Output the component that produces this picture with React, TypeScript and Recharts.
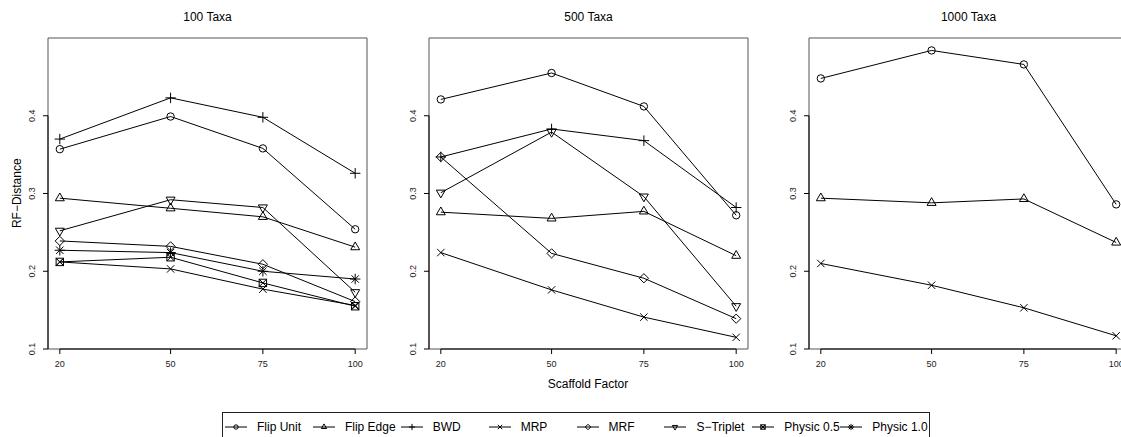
import React from 'react';
import { LineChart, Line, XAxis, YAxis, ReferenceArea, ReferenceLine } from 'recharts';

const FONT = '"Liberation Sans", Arial, Helvetica, sans-serif';

// x positions (scaffold factor) and y ticks
const scaffold = [20, 50, 75, 100];
const yTicks = [0.1, 0.2, 0.3, 0.4];
const panelTitles = ['100 Taxa', '500 Taxa', '1000 Taxa'];
const legendNames = ['Flip Unit', 'Flip Edge', 'BWD', 'MRP', 'MRF', 'S\u2212Triplet', 'Physic 0.5', 'Physic 1.0'];

// 100 taxa
const flipUnit100 = [0.357, 0.399, 0.358, 0.254];
const flipEdge100 = [0.294, 0.281, 0.27, 0.231];
const bwd100 = [0.37, 0.423, 0.398, 0.326];
const mrp100 = [0.212, 0.203, 0.177, 0.156];
const mrf100 = [0.239, 0.232, 0.209, 0.161];
const sTriplet100 = [0.252, 0.292, 0.282, 0.173];
const physic05_100 = [0.212, 0.218, 0.185, 0.155];
const physic10_100 = [0.227, 0.224, 0.2, 0.19];

// 500 taxa
const flipUnit500 = [0.421, 0.455, 0.412, 0.272];
const flipEdge500 = [0.276, 0.268, 0.277, 0.22];
const bwd500 = [0.347, 0.383, 0.368, 0.282];
const mrp500 = [0.224, 0.176, 0.141, 0.115];
const mrf500 = [0.347, 0.223, 0.191, 0.139];
const sTriplet500 = [0.301, 0.379, 0.296, 0.155];

// 1000 taxa
const flipUnit1000 = [0.448, 0.484, 0.466, 0.286];
const flipEdge1000 = [0.294, 0.288, 0.293, 0.237];
const mrp1000 = [0.21, 0.182, 0.153, 0.117];

type Shape = 'circle' | 'triUp' | 'plus' | 'cross' | 'diamond' | 'triDown' | 'boxX' | 'star';
const legendShapes: Shape[] = ['circle', 'triUp', 'plus', 'cross', 'diamond', 'triDown', 'boxX', 'star'];

// plot box geometry (pixels)
const AXIS_W = 48;
const PLOT_W = 319;
const panelLefts = [48, 429, 809];

function Marker({ cx, cy, shape, r = 3.7 }: { cx: number; cy: number; shape: Shape; r?: number }) {
  const st = { stroke: '#000', strokeWidth: 1, fill: 'none' };
  const t = r * 1.4;
  const p = r * 1.414;
  switch (shape) {
    case 'circle':
      return <circle cx={cx} cy={cy} r={r} {...st} />;
    case 'triUp':
      return <polygon points={`${cx},${cy - t} ${cx - t * 0.866},${cy + t / 2} ${cx + t * 0.866},${cy + t / 2}`} {...st} />;
    case 'triDown':
      return <polygon points={`${cx},${cy + t} ${cx - t * 0.866},${cy - t / 2} ${cx + t * 0.866},${cy - t / 2}`} {...st} />;
    case 'plus':
      return <path d={`M${cx - p},${cy}H${cx + p}M${cx},${cy - p}V${cy + p}`} {...st} />;
    case 'cross':
      return <path d={`M${cx - r},${cy - r}L${cx + r},${cy + r}M${cx - r},${cy + r}L${cx + r},${cy - r}`} {...st} />;
    case 'diamond': {
      const d = r * 1.25;
      return <polygon points={`${cx},${cy - d} ${cx + d},${cy} ${cx},${cy + d} ${cx - d},${cy}`} {...st} />;
    }
    case 'boxX':
      return (
        <g {...st}>
          <rect x={cx - r} y={cy - r} width={2 * r} height={2 * r} />
          <path d={`M${cx - r},${cy - r}L${cx + r},${cy + r}M${cx - r},${cy + r}L${cx + r},${cy - r}`} />
        </g>
      );
    case 'star':
      return (
        <path
          d={`M${cx - p},${cy}H${cx + p}M${cx},${cy - p}V${cy + p}M${cx - r},${cy - r}L${cx + r},${cy + r}M${cx - r},${cy + r}L${cx + r},${cy - r}`}
          {...st}
        />
      );
  }
  return null;
}

const dotFor = (shape: Shape) => (props: any) => (
  <Marker key={`dot-${shape}-${props.index}`} cx={props.cx} cy={props.cy} shape={shape} />
);

const RotTick = (props: any) => {
  const { x, y, payload } = props;
  return (
    <text x={x} y={y} transform={`rotate(-90 ${x} ${y})`} textAnchor="middle" fontSize={9} fontFamily={FONT} fill="#222">
      {payload.value}
    </text>
  );
};

type Series = { name: string; shape: Shape; values: number[] };

function Panel({ left, series }: { left: number; series: Series[] }) {
  const rows = scaffold.map((x, i) => {
    const row: Record<string, number> = { x };
    series.forEach((s, j) => {
      row['s' + j] = s.values[i];
    });
    return row;
  });
  return (
    <div style={{ position: 'absolute', left: left - AXIS_W, top: 0 }}>
      <LineChart width={AXIS_W + PLOT_W + 2} height={400} data={rows} margin={{ top: 38, right: 2, bottom: 21, left: 0 }}>
        <XAxis
          dataKey="x"
          type="number"
          domain={[16.8, 103.2]}
          ticks={scaffold}
          interval={0}
          allowDataOverflow
          axisLine={false}
          tickSize={5}
          tickMargin={7}
          height={30}
          tickLine={{ stroke: '#000' }}
          tick={{ fontSize: 9, fill: '#222', fontFamily: FONT }}
        />
        <YAxis
          type="number"
          domain={[0.1, 0.5]}
          ticks={yTicks}
          interval={0}
          allowDataOverflow
          width={AXIS_W}
          axisLine={false}
          tickSize={5}
          tickMargin={8}
          tickLine={{ stroke: '#000' }}
          tick={<RotTick />}
        />
        <ReferenceArea x1={16.8} x2={103.2} y1={0.1} y2={0.5} fill="none" stroke="#555" strokeWidth={1} ifOverflow="visible" />
        <ReferenceLine segment={[{ x: 16.8, y: 0.1 }, { x: 16.8, y: 0.4 }]} stroke="#000" ifOverflow="visible" />
        <ReferenceLine segment={[{ x: 20, y: 0.1 }, { x: 100, y: 0.1 }]} stroke="#000" ifOverflow="visible" />
        {series.map((s, j) => (
          <Line
            key={s.name}
            dataKey={'s' + j}
            name={s.name}
            type="linear"
            stroke="#000"
            strokeWidth={1}
            dot={dotFor(s.shape)}
            activeDot={false}
            isAnimationActive={false}
          />
        ))}
      </LineChart>
    </div>
  );
}

const centered = (cx: number, cy: number, size: number): React.CSSProperties => ({
  position: 'absolute',
  left: cx - 100,
  top: cy - size * 0.6,
  width: 200,
  textAlign: 'center',
  fontSize: size,
  lineHeight: `${size * 1.2}px`,
  fontFamily: FONT,
  color: '#000',
});

export default function App() {
  const s = (i: number, values: number[]): Series => ({ name: legendNames[i], shape: legendShapes[i], values });
  const panels: Series[][] = [
    [
      s(0, flipUnit100), s(1, flipEdge100), s(2, bwd100), s(3, mrp100),
      s(4, mrf100), s(5, sTriplet100), s(6, physic05_100), s(7, physic10_100),
    ],
    [s(0, flipUnit500), s(1, flipEdge500), s(2, bwd500), s(3, mrp500), s(4, mrf500), s(5, sTriplet500)],
    [s(0, flipUnit1000), s(1, flipEdge1000), s(3, mrp1000)],
  ];

  return (
    <div style={{ position: 'absolute', left: 0, top: 0, width: 1121, height: 437, overflow: 'hidden', background: '#fff' }}>
      {panels.map((series, k) => (
        <Panel key={k} left={panelLefts[k]} series={series} />
      ))}
      {panelTitles.map((t, k) => (
        <div key={t} style={centered(panelLefts[k] + PLOT_W / 2, 17, 12)}>
          {t}
        </div>
      ))}
      <div style={{ ...centered(17, 193.5, 12), transform: 'rotate(-90deg)' }}>RF{'\u2212'}Distance</div>
      <div style={centered(588, 384, 12)}>Scaffold Factor</div>

      {/* legend */}
      <div
        style={{
          position: 'absolute',
          left: 222,
          top: 412,
          width: 708,
          height: 32,
          border: '1px solid #222',
          boxSizing: 'border-box',
          display: 'flex',
          paddingLeft: 2,
          fontFamily: FONT,
          fontSize: 12,
        }}
      >
        {legendNames.map((name, i) => (
          <div key={name} style={{ width: 87.9, flex: 'none', display: 'flex', alignItems: 'center', height: 28 }}>
            <svg width={22} height={12} style={{ flex: 'none' }}>
              <line x1={0} y1={6} x2={22} y2={6} stroke="#000" strokeWidth={1} />
              <Marker cx={11} cy={6} shape={legendShapes[i]} r={2.2} />
            </svg>
            <span style={{ marginLeft: 10, whiteSpace: 'nowrap' }}>{name}</span>
          </div>
        ))}
      </div>
    </div>
  );
}
